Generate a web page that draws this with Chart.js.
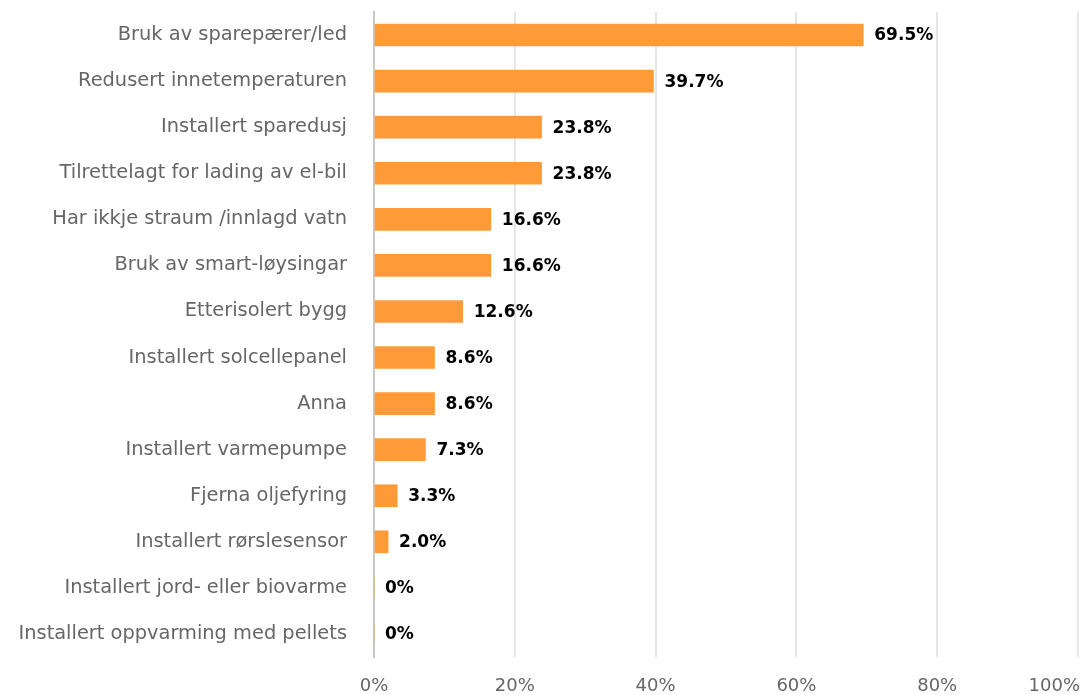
<!DOCTYPE html>
<html>
<head>
<meta charset="utf-8">
<script src="https://cdn.jsdelivr.net/npm/chart.js@4/dist/chart.umd.min.js"></script>
<style>
  html, body { margin: 0; padding: 0; background: #fff; }
  #wrap { width: 1083px; height: 695px; }
</style>
</head>
<body>
<div id="wrap"><canvas id="tiltak" width="1083" height="695"></canvas></div>
<script>
const categories = [
	'Bruk av sparepærer/led',
	'Redusert innetemperaturen',
	'Installert sparedusj',
	'Tilrettelagt for lading av el-bil',
	'Har ikkje straum /innlagd vatn',
	'Bruk av smart-løysingar',
	'Etterisolert bygg',
	'Installert solcellepanel',
	'Anna',
	'Installert varmepumpe',
	'Fjerna oljefyring',
	'Installert rørslesensor',
	'Installert jord- eller biovarme',
	'Installert oppvarming med pellets'
];
const shares = [69.5, 39.7, 23.8, 23.8, 16.6, 16.6, 12.6, 8.6, 8.6, 7.3, 3.3, 2.0, 0, 0];
const x_ticks = [0, 20, 40, 60, 80, 100];

const label_font = 'DejaVu Sans, Verdana, sans-serif';

const fmtShare = function(v) {
	return v === 0 ? '0%' : v.toFixed(1) + '%';
};

// value text to the right of each bar
const barLabels = {
	id: 'barLabels',
	afterDatasetsDraw(chart) {
		const ctx = chart.ctx;
		const meta = chart.getDatasetMeta(0);
		ctx.save();
		ctx.font = 'bold 17px ' + label_font;
		ctx.fillStyle = '#000';
		ctx.textAlign = 'left';
		ctx.textBaseline = 'middle';
		meta.data.forEach(function(bar, i) {
			ctx.fillText(fmtShare(shares[i]), bar.x + 11, bar.y + 1);
		});
		ctx.restore();
	}
};

// percent labels under the plot, last one kept inside the canvas
const xTickLabels = {
	id: 'xTickLabels',
	afterDraw(chart) {
		const ctx = chart.ctx;
		const scale = chart.scales.x;
		const y = chart.chartArea.bottom + 29;
		ctx.save();
		ctx.font = '18px ' + label_font;
		ctx.fillStyle = '#666';
		ctx.textBaseline = 'middle';
		x_ticks.forEach(function(v, i) {
			const px = scale.getPixelForValue(v);
			if (i === x_ticks.length - 1) {
				ctx.textAlign = 'right';
				ctx.fillText(v + '%', px + 2, y);
			} else {
				ctx.textAlign = 'center';
				ctx.fillText(v + '%', px, y);
			}
		});
		ctx.restore();
	}
};

new Chart(document.getElementById('tiltak'), {
	type: 'bar',
	data: {
		labels: categories,
		datasets: [{
			data: shares,
			backgroundColor: '#fe9b38',
			borderWidth: 0,
			barThickness: 22
		}]
	},
	plugins: [barLabels, xTickLabels],
	options: {
		indexAxis: 'y',
		responsive: false,
		animation: false,
		layout: { padding: { top: 12, right: 5, bottom: 38, left: 0 } },
		plugins: {
			legend: { display: false },
			tooltip: { enabled: false }
		},
		scales: {
			x: {
				min: 0,
				max: 100,
				ticks: { stepSize: 20, display: false },
				grid: { color: '#e6e6e6', lineWidth: 2, drawTicks: false },
				border: { display: false }
			},
			y: {
				afterFit: function(scale) {
					scale.width = 374;
					scale.paddingTop = 0;
					scale.paddingBottom = 0;
				},
				ticks: {
					padding: 27,
					color: '#666',
					font: { family: label_font, size: 19.4 }
				},
				grid: { display: false, drawTicks: false },
				border: { display: true, color: '#c8c8c8', width: 2 }
			}
		}
	}
});
</script>
</body>
</html>
